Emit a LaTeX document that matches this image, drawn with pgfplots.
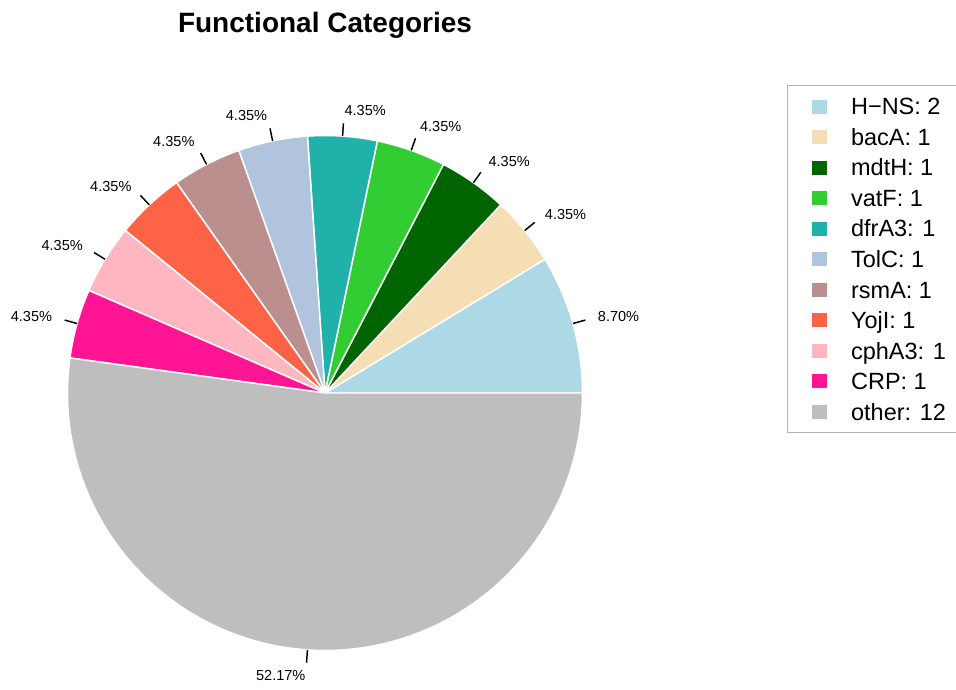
\documentclass[border=0pt]{standalone}
\usepackage{pgfplots}
\usepackage{pgfplotstable}
\pgfplotsset{compat=1.18}
\usepackage{fontspec}
\setmainfont{Liberation Sans}
\definecolor{c1}{RGB}{173,216,230}
\definecolor{c2}{RGB}{245,222,179}
\definecolor{c3}{RGB}{0,100,0}
\definecolor{c4}{RGB}{50,205,50}
\definecolor{c5}{RGB}{32,178,170}
\definecolor{c6}{RGB}{176,196,222}
\definecolor{c7}{RGB}{188,143,143}
\definecolor{c8}{RGB}{255,99,71}
\definecolor{c9}{RGB}{255,182,193}
\definecolor{c10}{RGB}{255,20,147}
\definecolor{c11}{RGB}{190,190,190}
\pgfplotstableread{
name value col
H-NS 2 c1
bacA 1 c2
mdtH 1 c3
vatF 1 c4
dfrA3 1 c5
TolC 1 c6
rsmA 1 c7
YojI 1 c8
cphA3 1 c9
CRP 1 c10
other 12 c11
}\piedata
\begin{document}
\begin{tikzpicture}
\begin{axis}[
  x=0.75pt, y=0.75pt, xmin=0, xmax=956, ymin=0, ymax=689,
  scale only axis, hide axis, clip=false,
  /pgf/number format/assume math mode=true,
  title={Functional Categories},
  every axis title shift=0pt,
  title style={at={(axis description cs:0.34,0.9521)}, anchor=base, inner sep=0pt, yshift=0pt,
    font=\bfseries\fontsize{21}{25}\selectfont},
  legend image code/.code={\fill[#1, draw=none] (0pt,1pt) rectangle (11.25pt,11.5pt);},
  legend style={at={(axis description cs:0.8232,0.8766)}, anchor=north west,
    draw=black!30, line width=0.75pt, fill=white,
    font=\fontsize{17.6}{20}\selectfont,
    inner xsep=18.5pt, inner ysep=9pt, row sep=9.5pt,
    nodes={inner sep=0pt, text height=13pt, text depth=0.4pt, anchor=base west},
    /tikz/every odd column/.append style={column sep=18pt}},
]
\pgfplotsextra{%
  \xdef\tot{0}%
  \pgfplotstableforeachcolumnelement{value}\of\piedata\as\v{%
    \pgfmathsetmacro\t{\tot+\v}\xdef\tot{\t}}%
  \xdef\cum{0}%
  \pgfplotstableforeachcolumnelement{value}\of\piedata\as\v{%
    \pgfplotstablegetelem{\pgfplotstablerow}{col}\of\piedata
    \edef\c{\pgfplotsretval}%
    \pgfmathsetmacro\s{\cum}%
    \pgfmathsetmacro\e{\cum+\v*360/\tot}%
    \pgfmathsetmacro\m{(\s+\e)/2}%
    \pgfmathsetmacro\p{\v*100/\tot}%
    \pgfmathsetmacro\cm{cos(\m)}%
    \ifdim\cm pt<0pt \def\anc{east}\else\def\anc{west}\fi
    \fill[fill=\c, draw=white, line width=1.1pt, line join=round]
      (axis cs:325,296) -- ++(\s:193.1pt) arc[start angle=\s, end angle=\e, radius=193.1pt] -- cycle;
    \draw[line width=1.1pt] (axis cs:325,296) ++(\m:193.1pt) -- ++(\m:9.66pt);
    \path (axis cs:325,296) ++(\m:212.4pt) node[anchor=\anc, inner sep=0pt,
      font=\fontsize{10.9}{12}\selectfont]
      {\pgfmathprintnumber[fixed,fixed zerofill,precision=2,assume math mode=true]{\p}\%};
    \xdef\cum{\e}%
  }%
}
\addlegendimage{fill=c1}\addlegendentry{H−NS: 2}
\addlegendimage{fill=c2}\addlegendentry{bacA: 1}
\addlegendimage{fill=c3}\addlegendentry{mdtH: 1}
\addlegendimage{fill=c4}\addlegendentry{vatF: 1}
\addlegendimage{fill=c5}\addlegendentry{dfrA3: 1}
\addlegendimage{fill=c6}\addlegendentry{TolC: 1}
\addlegendimage{fill=c7}\addlegendentry{rsmA: 1}
\addlegendimage{fill=c8}\addlegendentry{YojI: 1}
\addlegendimage{fill=c9}\addlegendentry{cphA3: 1}
\addlegendimage{fill=c10}\addlegendentry{CRP: 1}
\addlegendimage{fill=c11}\addlegendentry{other: 12}
\end{axis}
\pgfresetboundingbox
\path[use as bounding box] (0,0) rectangle (717pt,516.75pt);
\end{tikzpicture}
\end{document}
